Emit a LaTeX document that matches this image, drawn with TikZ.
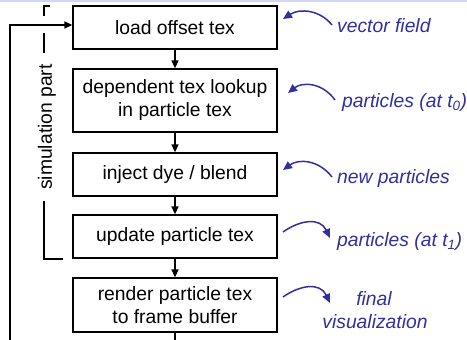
\documentclass[tikz,border=0pt]{standalone}
\usepackage{fontspec}
\setmainfont{Liberation Sans}
\usetikzlibrary{arrows.meta}
\definecolor{annblue}{RGB}{48,48,160}
\definecolor{topline}{RGB}{212,212,245}
\tikzset{
  box/.style={draw=black, line width=1.3pt, minimum width=204pt, inner sep=0pt, align=center,
    font=\fontsize{19.3}{23}\selectfont},
  flow/.style={line width=1.3pt, -{Triangle[length=8pt,width=7pt]}},
  plain/.style={line width=1.3pt},
  ann/.style={annblue, line width=1.5pt, -{Triangle[length=9pt,width=8pt]}},
  anntext/.style={annblue, inner sep=0pt, anchor=base west, font=\fontsize{19.3}{23}\selectfont\itshape},
  anntextc/.style={anntext, anchor=base},
  simtext/.style={inner sep=0pt, rotate=90, anchor=base, font=\fontsize{19.3}{23}\selectfont}
}
\begin{document}
\begin{tikzpicture}[x=1pt,y=-1pt]
\useasboundingbox (0,0) rectangle (467,340);
\fill[white] (0,0) rectangle (467,340);
\draw[topline, line width=1.5pt] (0,0.75) -- (467,0.75);
% boxes
\node[box, minimum height=43pt] (b1) at (175,27.5) {load offset tex};
\node[box, minimum height=63pt] (b2) at (175,100.5) {dependent tex lookup\\in particle tex};
\node[box, minimum height=43pt] (b3) at (175,174.5) {inject dye / blend};
\node[box, minimum height=43pt] (b4) at (175,236.5) {update particle tex};
\node[box, minimum height=54pt] (b5) at (175,305) {render particle tex\\to frame buffer};
% flow arrows
\draw[flow] (b1) -- (b2);
\draw[flow] (b2) -- (b3);
\draw[flow] (b3) -- (b4);
\draw[flow] (b4) -- (b5);
\coordinate (bb) at (175,340);
\draw[plain] (b5) -- (bb);
% loop
\coordinate (lb) at (10,340);
\coordinate (lt) at (10,25);
\draw[flow] (lb) -- (lt) -- (b1.west |- lt);
% simulation bracket
\node[simtext] (sim) at (52,127) {simulation part};
\coordinate (s1) at (50,6);
\coordinate (s2) at (44,6);
\coordinate (s3) at (44,16);
\coordinate (s4) at (44,33);
\coordinate (s5) at (44,53);
\coordinate (s6) at (44,201);
\coordinate (s7) at (44,259);
\coordinate (s8) at (63,259);
\draw[plain] (s1) -- (s2) -- (s3);
\draw[plain] (s4) -- (s5);
\draw[plain] (s6) -- (s7) -- (s8);
% annotations
\node[anntext] (t1) at (337,32.5) {vector field};
\node[anntext] (t2) at (342,107) {particles (at t\textsubscript{0})};
\node[anntext] (t3) at (337,183) {new particles};
\node[anntext] (t4) at (337,246) {particles (at t\textsubscript{1})};
\node[anntextc] (t5) at (374,305) {final};
\node[anntextc] (t6) at (375,328) {visualization};
\coordinate (a1s) at (332,25);
\coordinate (a1e) at (283,19);
\draw[ann] (a1s) .. controls (320,10) and (300,8) .. (a1e);
\coordinate (a2s) at (335,100);
\coordinate (a2e) at (288,93);
\draw[ann] (a2s) .. controls (322,82) and (302,82) .. (a2e);
\coordinate (a3s) at (332,177);
\coordinate (a3e) at (283,170);
\draw[ann] (a3s) .. controls (318,159) and (298,159) .. (a3e);
\coordinate (a4s) at (283,232);
\coordinate (a4e) at (330,238);
\draw[ann] (a4s) .. controls (300,220) and (320,217) .. (a4e);
\coordinate (a5s) at (283,297);
\coordinate (a5e) at (330,303);
\draw[ann] (a5s) .. controls (300,285) and (320,282) .. (a5e);
\end{tikzpicture}
\end{document}
